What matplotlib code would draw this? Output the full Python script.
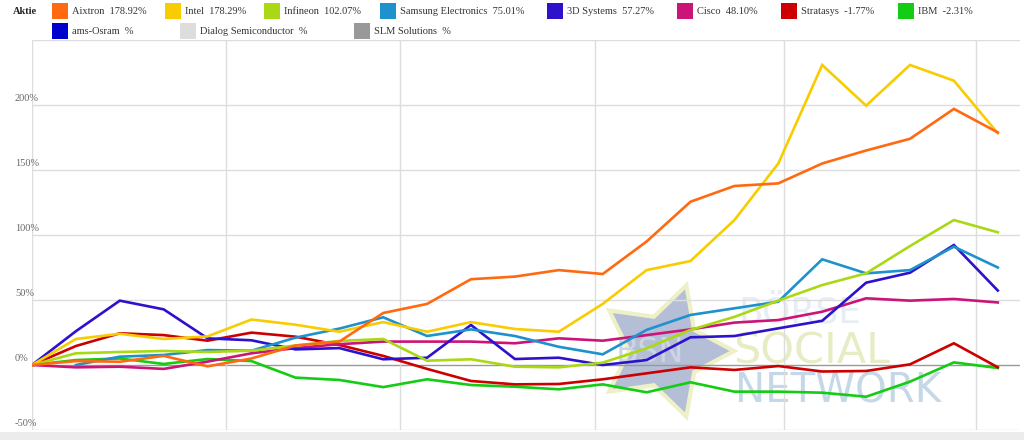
import numpy as np
import matplotlib.pyplot as plt
from matplotlib.patches import Rectangle, Polygon

# weekly performance in %
aixtron = [0, 3, 2.5, 7, -1, 5, 15, 18, 40, 47, 66, 68, 73, 70, 95, 125.6, 137.7, 139.7, 155, 165, 174, 197, 178.92]
intel = [0, 20, 24, 20, 22, 35, 31, 25.6, 33, 25.6, 33, 27.7, 25.6, 47, 73, 80, 111.5, 155, 230.8, 199.5, 230.8, 218.7, 178.29]
infineon = [0, 9, 10, 10.8, 10, 11, 15, 18.5, 20, 3.3, 4.4, -1.3, -1.8, 1.8, 12.8, 27, 37, 49.5, 61.5, 70.5, 91.5, 111.5, 102.07]
samsung = [np.nan, 0, 6.4, 7.7, 11.5, 11, 21, 28, 36.7, 22.3, 27.4, 22.3, 14, 8.2, 27, 38.5, 43.6, 48.7, 81.3, 70.5, 73, 91, 75.01]
systems3d = [0, 26, 49.5, 42.8, 20.5, 19, 12, 13, 4.4, 5.6, 30.8, 4.6, 5.6, 0, 3.8, 21.3, 22.3, 28.2, 34, 63.3, 71, 92.3, 57.27]
cisco = [0, -1.8, -1.3, -3, 2.6, 9, 13, 16, 18, 18, 18, 16.7, 20.5, 18.7, 23, 27.4, 32.6, 34.6, 41, 51.3, 49.5, 50.8, 48.10]
stratasys = [0, 14.6, 24.4, 23, 18.7, 24.9, 21.8, 15.4, 7, -3, -12.3, -14.9, -14.6, -11, -6.4, -1.8, -3.8, -0.8, -5, -4.6, 0.5, 16.7, -1.77]
ibm = [0, 3.8, 5, 0.8, 4.6, 3, -9.7, -11.5, -17, -11, -15.4, -16.7, -18.7, -14.9, -21, -13.3, -20.5, -20.5, -21.3, -24.4, -12.8, 2, -2.31]

series = [aixtron, intel, infineon, samsung, systems3d, cisco, stratasys, ibm]
colors = ['#ff6a10', '#f8cc00', '#aad814', '#1e92cc', '#2c12cc', '#cc1478', '#cc0000', '#14cc14']

legend_names = ['Aixtron  178.92%', 'Intel  178.29%', 'Infineon  102.07%', 'Samsung Electronics  75.01%',
                '3D Systems  57.27%', 'Cisco  48.10%', 'Stratasys  -1.77%', 'IBM  -2.31%',
                'ams-Osram  %', 'Dialog Semiconductor  %', 'SLM Solutions  %']
legend_colors = colors + ['#0000cc', '#dddddd', '#999999']

yticks = [-50, 0, 50, 100, 150, 200]

W, H = 1024, 440
fig = plt.figure(figsize=(W / 100, H / 100), dpi=100)
plt.rcParams['font.family'] = ['Liberation Serif', 'DejaVu Serif']

step = 43.9  # px per data point
ax = fig.add_axes([32 / W, 10 / H, 988 / W, 390 / H])
ax.set_xlim(0, 988 / step)
ax.set_ylim(-50, 250)
for s in ax.spines.values():
    s.set_visible(False)
ax.set_xticks([])
ax.set_yticks([])

# grid
for y in yticks + [250]:
    ax.axhline(y, color='#999999' if y == 0 else '#dddddd', lw=1, zorder=1)
for px in [32, 226, 400, 595, 784, 976]:
    ax.axvline((px - 32) / step, color='#dddddd', lw=1, zorder=1)
for y in yticks:
    ax.annotate(f'{y}%', (0, y), xycoords='data', xytext=(-17, 2), textcoords='offset pixels',
                fontsize=7.5, color='#666666', va='bottom', ha='left', annotation_clip=False)

# watermark
cx, cy, r_out, r_in = 665, 351, 69, 36
pts = []
for k in range(10):
    a = np.deg2rad(k * 36)
    r = r_out if k % 2 == 0 else r_in
    pts.append(((cx + r * np.cos(a)) / W, 1 - (cy - r * np.sin(a)) / H))
fig.patches.append(Polygon(pts, closed=True, transform=fig.transFigure, facecolor='#b4bed6',
                           edgecolor='#eef0c8', lw=3, zorder=0))
fig.text(650 / W, 1 - 352 / H, 'BSN', fontsize=24, family='DejaVu Sans', color='#cdd4e2',
         ha='center', va='center', zorder=0)
fig.text(738 / W, 1 - 312 / H, 'BÖRSE', fontsize=26, family='DejaVu Sans', color='#e6edf5',
         ha='left', va='center', zorder=0)
fig.text(733 / W, 1 - 351 / H, 'SOCIAL', fontsize=31, family='DejaVu Sans', color='#e8ecc4',
         ha='left', va='center', zorder=0)
fig.text(735 / W, 1 - 391 / H, 'NETWORK', fontsize=29, family='DejaVu Sans', color='#c4d8e8',
         ha='left', va='center', zorder=0)
ax.patch.set_alpha(0)
ax.set_zorder(2)

x = np.arange(len(aixtron))
for vals, c in zip(series[::-1], colors[::-1]):
    ax.plot(x, vals, color=c, lw=1.9, solid_joinstyle='miter', zorder=3)

# bottom bar
fig.patches.append(Rectangle((0, 0), 1, 8 / H, transform=fig.transFigure, facecolor='#ececec',
                             edgecolor='none', zorder=0))

# legend
fig.text(13 / W, 1 - 11 / H, 'Aktie', fontsize=7.5, weight='bold', color='#222222', va='center')
pos = [(52, 11), (165, 11), (264, 11), (380, 11), (547, 11), (677, 11), (781, 11), (898, 11),
       (52, 31), (180, 31), (354, 31)]
for (px, py), name, c in zip(pos, legend_names, legend_colors):
    fig.patches.append(Rectangle((px / W, 1 - (py + 8) / H), 16 / W, 16 / H,
                                 transform=fig.transFigure, facecolor=c, edgecolor='none'))
    fig.text((px + 20) / W, 1 - py / H, name, fontsize=7.5, color='#333333', va='center')

fig.savefig('out.png', dpi=100)
